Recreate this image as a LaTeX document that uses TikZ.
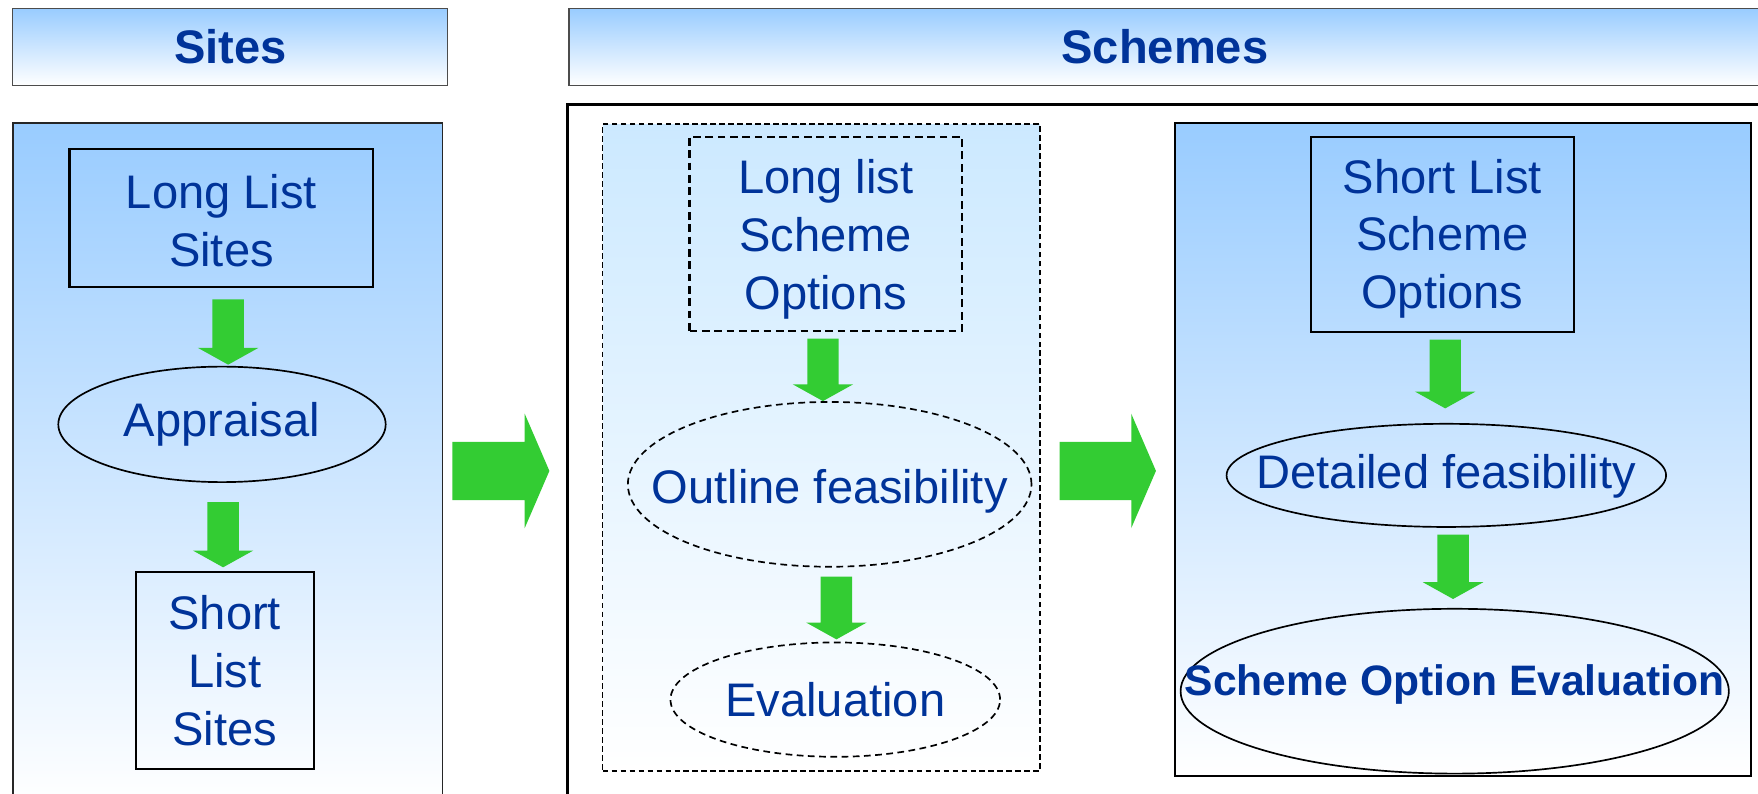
\documentclass[tikz,border=0pt]{standalone}
\usepackage{fontspec}
\setmainfont{Liberation Sans}
\usetikzlibrary{shapes.geometric,calc}
\definecolor{hb}{HTML}{99CCFF}
\definecolor{lb}{HTML}{CCE9FF}
\definecolor{tb}{HTML}{003399}
\definecolor{ag}{HTML}{33CC33}
\newcommand{\garrow}[2]{\fill[ag] let \p1=#1, \p2=#2 in
  (\x1-14pt,\y1) -- (\x1+14pt,\y1) -- (\x1+14pt,\y2+15pt) -- (\x1+27pt,\y2+15pt)
  -- (\x1,\y2) -- (\x1-27pt,\y2+15pt) -- (\x1-14pt,\y2+15pt) -- cycle;}
\newcommand{\rarrow}[2]{\fill[ag] let \p1=#1, \p2=#2 in
  (\x1,\y1+26pt) -- (\x2-22pt,\y1+26pt) -- (\x2-22pt,\y1+51pt) -- (\x2,\y1)
  -- (\x2-22pt,\y1-51pt) -- (\x2-22pt,\y1-26pt) -- (\x1,\y1-26pt) -- cycle;}
\tikzset{
  hdr/.style={draw=gray!60!black, line width=1pt, top color=hb, bottom color=white,
    inner sep=0pt, anchor=north west, text=tb, font=\fontsize{42}{48}\selectfont\bfseries},
  panel/.style={top color=hb, bottom color=white, inner sep=0pt, anchor=north west},
  txt/.style={text=tb, align=center, inner sep=0pt, font=\fontsize{42}{51.5}\selectfont},
  btxt/.style={text=tb, align=center, inner sep=0pt, font=\fontsize{38}{46}\selectfont\bfseries},
  solidbox/.style={inner sep=0pt, draw=black, line width=2pt},
  dashbox/.style={inner sep=0pt, draw=black, line width=2pt, dash pattern=on 7pt off 4pt},
  oval/.style={ellipse, inner sep=0pt, draw=black, line width=1.5pt},
  dashoval/.style={ellipse, inner sep=0pt, draw=black, line width=1.5pt, dash pattern=on 6pt off 4pt},
}
\begin{document}
\begin{tikzpicture}[x=1pt,y=-1pt]
\path[use as bounding box, clip] (0,0) rectangle (1568,707.3);
\fill[white] (0,0) rectangle (1568,707.3);
% headers
\node[hdr, minimum width=388pt, minimum height=69pt] (h1) at (11,7) {Sites};
\node[hdr, minimum width=1063pt, minimum height=69pt] (h2) at (507,7) {Schemes};
% left panel
\node[panel, draw=gray!30!black, line width=1.5pt, minimum width=383pt, minimum height=610pt] (lp) at (11,109) {};
\node[solidbox, minimum width=271pt, minimum height=123pt, label={[txt, yshift=-2pt]center:Long List\\Sites}] (lls) at (197.5,194.5) {};
\node[oval, minimum width=292pt, minimum height=103pt, label={[txt]center:Appraisal}] (app) at (198,378.5) {};
\node[solidbox, minimum width=159pt, minimum height=176pt, label={[txt]center:Short\\List\\Sites}] (sls) at (200.5,598) {};
\garrow{($(lls.south)+(6,10)$)}{($(app.north)+(6,-1)$)}
\garrow{($(app.south)+(1,17)$)}{($(sls.north)+(-1.5,-3)$)}
% big box
\node[draw=black, line width=2.7pt, inner sep=0pt, anchor=north west, minimum width=1075pt, minimum height=640pt] (bb) at (505,92) {};
% dashed panel
\node[panel, top color=lb, draw=black, line width=1.2pt, dash pattern=on 5pt off 3pt, minimum width=390pt, minimum height=577pt] (dp) at (537,110) {};
\node[dashbox, minimum width=243pt, minimum height=173pt, label={[txt, yshift=-5pt]center:Long list\\Scheme\\Options}] (llso) at (736.5,208.5) {};
\node[dashoval, minimum width=360pt, minimum height=147pt, label={[txt, yshift=-6pt]center:Outline feasibility}] (ofe) at (740,432) {};
\node[dashoval, minimum width=294pt, minimum height=102pt, label={[txt]center:Evaluation}] (ev) at (745,624) {};
\garrow{($(llso.south)+(-2.5,6)$)}{($(ofe.north)+(-6,0)$)}
\garrow{($(ofe.south)+(6,8)$)}{($(ev.north)+(1,-2)$)}
% right panel
\node[panel, draw=black, line width=2pt, minimum width=514pt, minimum height=582pt] (rp) at (1047,109) {};
\node[solidbox, minimum width=235pt, minimum height=174pt, label={[txt, yshift=-4pt]center:Short List\\Scheme\\Options}] (slso) at (1286.5,209) {};
\node[oval, minimum width=392pt, minimum height=92pt, label={[txt, yshift=-1pt]center:Detailed feasibility}] (dfe) at (1290,424) {};
\node[oval, minimum width=489pt, minimum height=147pt, label={[btxt, yshift=6pt]center:Scheme Option Evaluation}] (soe) at (1297.5,616.5) {};
\garrow{($(slso.south)+(2.5,6)$)}{($(dfe.north)+(0,-13)$)}
\garrow{($(dfe.south)+(6,6)$)}{($(soe.north)+(-1.5,-8)$)}
% big arrows
\coordinate (a1s) at ($(lp.north east)+(8,311)$);
\coordinate (a1e) at ($(bb.north west)+(-15,328)$);
\rarrow{(a1s)}{(a1e)}
\coordinate (a2s) at ($(dp.north east)+(17,310)$);
\coordinate (a2e) at ($(rp.north west)+(-16,311)$);
\rarrow{(a2s)}{(a2e)}
\end{tikzpicture}
\end{document}
